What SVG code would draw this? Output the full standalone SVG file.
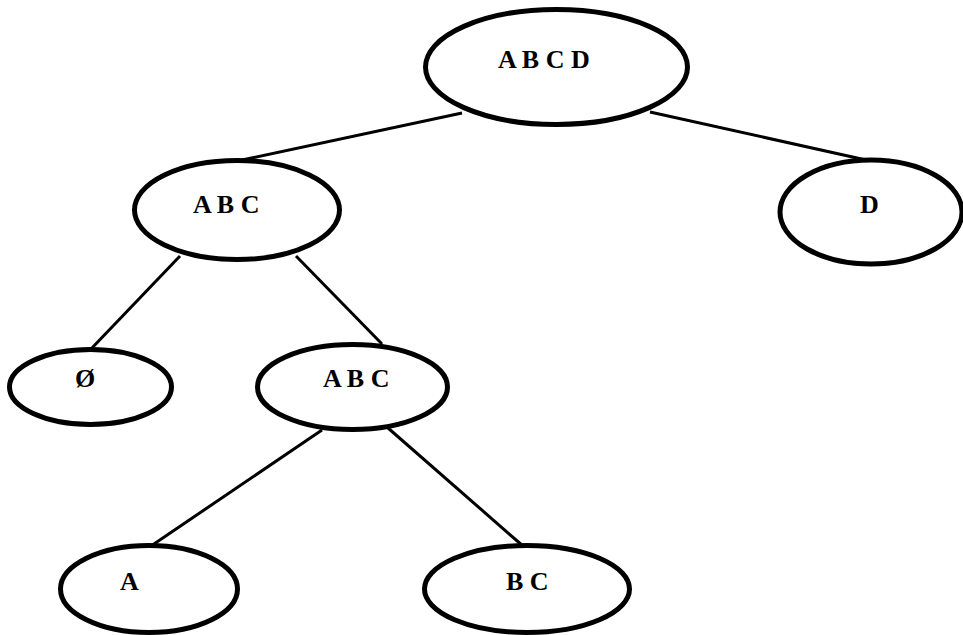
<svg xmlns="http://www.w3.org/2000/svg" width="963" height="635" viewBox="0 0 963 635">
<style>
.node ellipse{fill:#fff;stroke:#000;stroke-width:5}
.node text{font-family:"Liberation Serif","Times New Roman",serif;font-weight:bold;font-size:26px;fill:#000}
.edges line{stroke:#000;stroke-width:3}
</style>
<rect width="963" height="635" fill="#fff"/>
<g class="edges">
<line x1="462" y1="113" x2="242" y2="160"/>
<line x1="650" y1="112" x2="866" y2="160"/>
<line x1="180" y1="256" x2="91" y2="349"/>
<line x1="296" y1="256" x2="382" y2="344"/>
<line x1="322" y1="430" x2="151" y2="546"/>
<line x1="388" y1="428" x2="523" y2="546"/>
</g>
<g id="n1" class="node"><ellipse cx="556.5" cy="67" rx="131" ry="57.5"/><text x="498" y="68">A B C D</text></g>
<g id="n2" class="node"><ellipse cx="237" cy="210" rx="102.5" ry="49.5"/><text x="193" y="213">A B C</text></g>
<g id="n3" class="node"><ellipse cx="871" cy="212" rx="91" ry="52"/><text x="860" y="213">D</text></g>
<g id="n4" class="node"><ellipse cx="90.5" cy="387" rx="81" ry="37.5"/><text x="75" y="387">Ø</text></g>
<g id="n5" class="node"><ellipse cx="352.5" cy="387" rx="95" ry="42.5"/><text x="323" y="387">A B C</text></g>
<g id="n6" class="node"><ellipse cx="149" cy="589" rx="88.5" ry="43.5"/><text x="120" y="590">A</text></g>
<g id="n7" class="node"><ellipse cx="527" cy="589" rx="102.5" ry="43.5"/><text x="506" y="590">B C</text></g>
</svg>
